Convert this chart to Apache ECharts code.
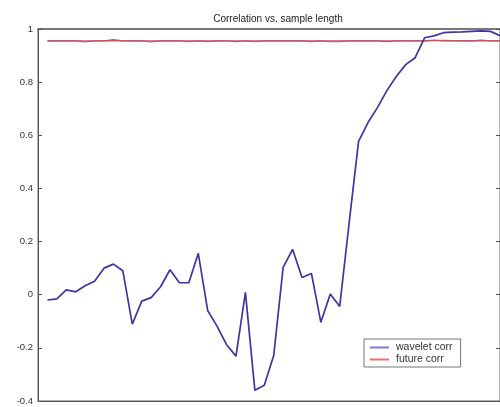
<!DOCTYPE html>
<html>
<head>
<meta charset="utf-8">
<script src="https://cdn.jsdelivr.net/npm/echarts@6/dist/echarts.min.js"></script>
<style>
  html, body { margin: 0; padding: 0; background: #fff; }
  #chart { width: 500px; height: 407px; }
</style>
</head>
<body>
<div id="chart"></div>
<script>
// sample length index (x)
const sampleLength = [1,2,3,4,5,6,7,8,9,10,11,12,13,14,15,16,17,18,19,20,21,22,23,24,25,
  26,27,28,29,30,31,32,33,34,35,36,37,38,39,40,41,42,43,44,45,46,47,48,49];

// correlation of the wavelet estimate
const waveletCorr = [-0.020,-0.016,0.018,0.011,0.034,0.051,0.100,0.115,0.090,-0.111,
  -0.024,-0.011,0.030,0.094,0.045,0.045,0.156,-0.060,-0.119,-0.188,
  -0.231,0.009,-0.360,-0.341,-0.229,0.103,0.171,0.065,0.080,-0.104,
  0.003,-0.044,0.270,0.577,0.648,0.704,0.768,0.821,0.866,0.892,
  0.967,0.974,0.986,0.988,0.989,0.991,0.993,0.991,0.975];

// correlation of the future values
const futureCorr = [0.955,0.955,0.955,0.955,0.955,0.955,0.955,0.956,0.955,0.955,
  0.955,0.955,0.955,0.955,0.955,0.955,0.955,0.955,0.955,0.955,
  0.955,0.955,0.955,0.955,0.955,0.955,0.955,0.955,0.955,0.955,
  0.955,0.955,0.955,0.955,0.955,0.955,0.955,0.955,0.955,0.955,
  0.955,0.956,0.957,0.956,0.955,0.955,0.956,0.955,0.955];

// full-sample wavelet correlation, drawn under the red curve
const waveletCorrFull = [0.955,0.955,0.955,0.955,0.951,0.955,0.955,0.960,0.955,0.955,
  0.955,0.951,0.955,0.955,0.955,0.952,0.955,0.952,0.955,0.955,
  0.952,0.955,0.952,0.955,0.955,0.955,0.955,0.955,0.952,0.955,
  0.952,0.952,0.955,0.955,0.955,0.955,0.952,0.955,0.955,0.955,
  0.955,0.958,0.955,0.955,0.955,0.955,0.958,0.955,0.955];

const yTicks = { min: -0.4, max: 1, step: 0.2 };

const pair = (xs, ys) => xs.map((x, i) => [x, ys[i]]);

const chart = echarts.init(document.getElementById('chart'), null, { renderer: 'canvas' });

const axisColor = '#555';
const textColor = '#333';
const font = 'Liberation Sans, Arial, sans-serif';

chart.setOption({
  animation: false,
  backgroundColor: '#fff',
  title: {
    text: 'Correlation vs. sample length',
    left: 273, top: 9, textAlign: 'center',
    textStyle: { fontSize: 10, fontWeight: 'normal', color: '#222', fontFamily: font }
  },
  grid: {
    left: 38, top: 29, width: 463, height: 372,
    show: true, borderColor: '#666', borderWidth: 1, backgroundColor: '#fff'
  },
  legend: {
    data: [
      { name: 'wavelet corr', itemStyle: { color: '#7a7ad8' } },
      { name: 'future corr', itemStyle: { color: '#e87070' } }
    ],
    orient: 'vertical',
    left: 364, top: 339,
    padding: [3, 8, 2, 6],
    itemGap: 1,
    itemWidth: 19, itemHeight: 2,
    icon: 'rect',
    borderColor: '#777', borderWidth: 1, backgroundColor: '#fff',
    textStyle: { fontSize: 10.5, color: textColor, fontFamily: font, padding: [0, 0, 0, 2] }
  },
  xAxis: [{
    type: 'value', min: 0, max: 49,
    axisLine: { show: true, onZero: false, lineStyle: { color: axisColor, width: 1 } },
    axisTick: { show: false }, axisLabel: { show: false }, splitLine: { show: false }
  }, {
    type: 'value', min: 0, max: 49, position: 'top',
    axisLine: { show: true, onZero: false, lineStyle: { color: '#777', width: 2 } },
    axisTick: { show: false }, axisLabel: { show: false }, splitLine: { show: false }
  }],
  yAxis: [{
    type: 'value', min: yTicks.min, max: yTicks.max, interval: yTicks.step,
    axisLine: { show: true, onZero: false, lineStyle: { color: axisColor, width: 1 } },
    axisTick: { show: true, inside: true, length: 4, lineStyle: { color: axisColor } },
    axisLabel: {
      color: textColor, fontSize: 9.5, fontFamily: font, margin: 5,
      formatter: v => String(Math.round(v * 10) / 10)
    },
    splitLine: { show: false }
  }, {
    type: 'value', min: yTicks.min, max: yTicks.max, interval: yTicks.step, position: 'right',
    axisLine: { show: true, onZero: false, lineStyle: { color: axisColor, width: 1 } },
    axisTick: { show: true, inside: true, length: 4, lineStyle: { color: axisColor } },
    axisLabel: { show: false },
    splitLine: { show: false }
  }],
  series: [{
    name: 'wavelet corr full',
    type: 'line', data: pair(sampleLength, waveletCorrFull),
    showSymbol: false, z: 2,
    lineStyle: { color: '#6a6ac8', width: 1.2 }
  }, {
    name: 'future corr',
    type: 'line', data: pair(sampleLength, futureCorr),
    showSymbol: false, z: 3,
    itemStyle: { color: '#e87070' },
    lineStyle: { color: '#e04848', width: 1.3 }
  }, {
    name: 'wavelet corr',
    type: 'line', data: pair(sampleLength, waveletCorr),
    showSymbol: false, z: 4,
    itemStyle: { color: '#7a7ad8' },
    lineStyle: { color: '#3a36a6', width: 1.7 }
  }]
});
</script>
</body>
</html>
